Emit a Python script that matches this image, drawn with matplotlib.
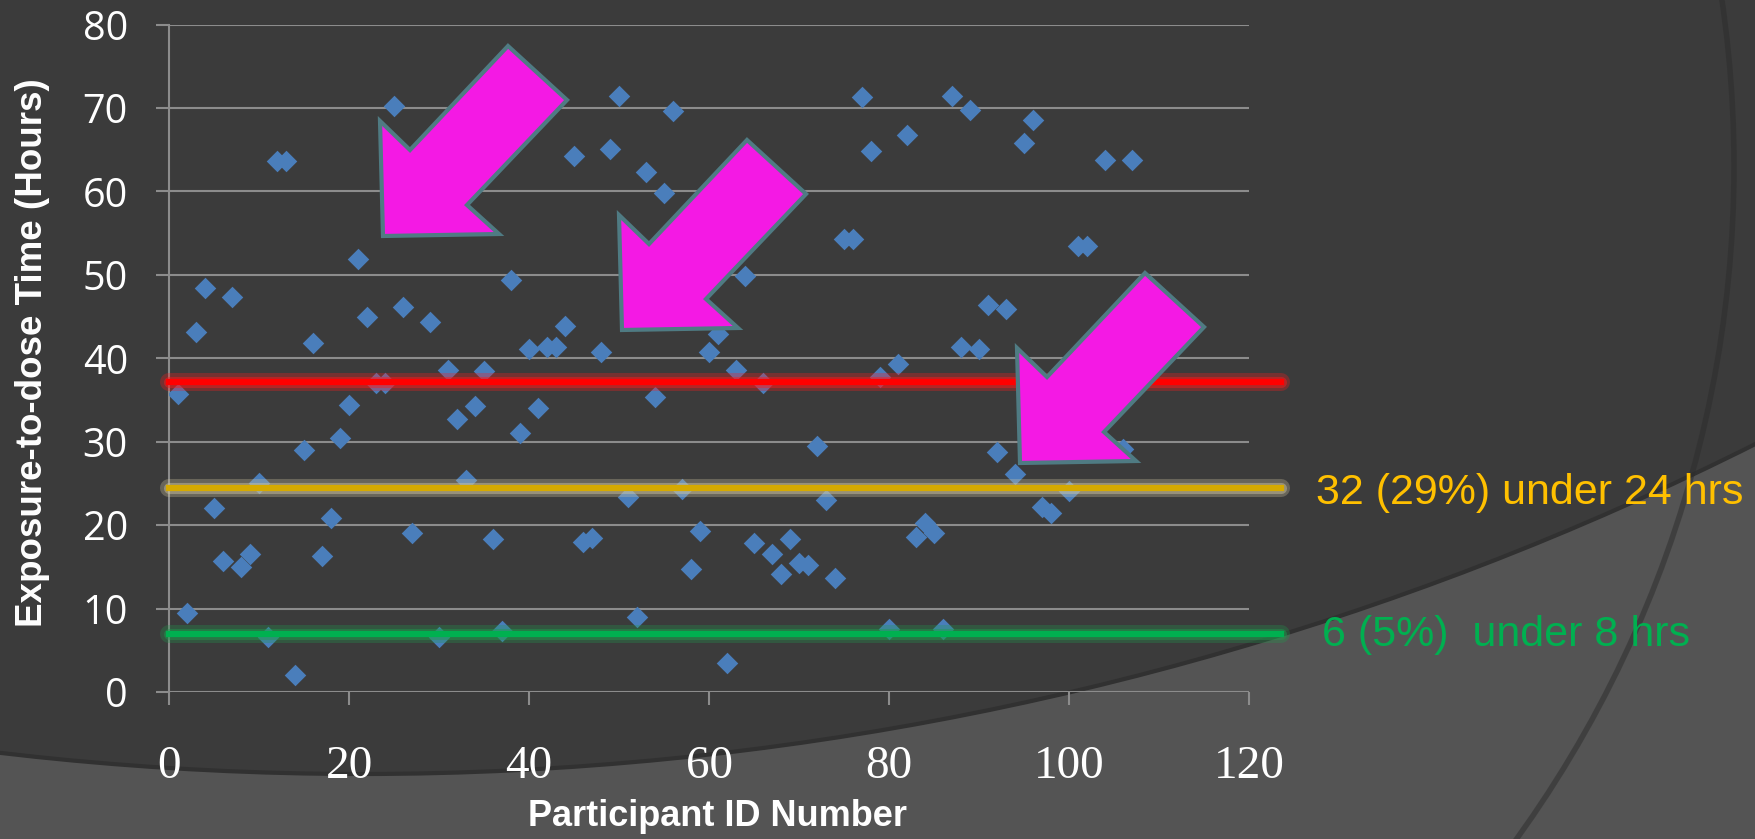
import matplotlib.pyplot as plt
from matplotlib.patches import Ellipse, Polygon

# participant id -> exposure-to-dose time (hours)
participant_id = [1, 2, 3, 4, 5, 6, 7, 8, 9, 10,
                  11, 12, 13, 14, 15, 16, 17, 18, 19, 20,
                  21, 22, 23, 24, 25, 26, 27, 29, 30,
                  31, 32, 33, 34, 35, 36, 37, 38, 39, 40,
                  41, 42, 43, 44, 45, 46, 47, 48, 49, 50,
                  51, 52, 53, 54, 55, 56, 57, 58, 59, 60,
                  61, 62, 63, 64, 65, 66, 67, 68, 69, 70,
                  71, 72, 73, 74, 75, 76, 77, 78, 79, 80,
                  81, 82, 83, 84, 85, 86, 87, 88, 89, 90,
                  91, 92, 93, 94, 95, 96, 97, 98, 100,
                  101, 102, 104, 106, 107]
hours = [35.7, 9.5, 43.2, 48.4, 22.0, 15.7, 47.3, 15.0, 16.5, 25.0,
         6.6, 63.7, 63.6, 2.0, 29.0, 41.8, 16.3, 20.8, 30.5, 34.4,
         51.9, 45.0, 37.0, 37.0, 70.2, 46.2, 19.0, 44.3, 6.6,
         38.6, 32.7, 25.4, 34.3, 38.5, 18.3, 7.3, 49.4, 31.1, 41.1,
         34.0, 41.4, 41.4, 43.9, 64.2, 18.0, 18.5, 40.7, 65.1, 71.5,
         23.4, 9.0, 62.3, 35.4, 59.8, 69.6, 24.3, 14.7, 19.3, 40.7,
         42.9, 3.5, 38.6, 49.9, 17.9, 37.0, 16.6, 14.1, 18.3, 15.5,
         15.2, 29.5, 23.0, 13.7, 54.3, 54.3, 71.3, 64.8, 37.8, 7.5,
         39.3, 66.8, 18.6, 20.3, 19.0, 7.5, 71.5, 41.4, 69.8, 41.1,
         46.4, 28.8, 45.9, 26.1, 65.8, 68.6, 22.2, 21.5, 24.1,
         53.5, 53.5, 63.8, 29.1, 63.8]

# reference lines drawn over the chart
line_levels = [37.2, 24.5, 7.0]
line_x = [0, 123.5]
line_core = ['#ff0000', '#d6aa00', '#00b050']
line_glow = ['#ff1a1a', '#d2c8a4', '#1f9a4c']

notes = ['32 (29%) under 24 hrs', '6 (5%)  under 8 hrs']
note_colors = ['#ffc000', '#00b050']

W, H = 1756, 839
fig = plt.figure(figsize=(W / 100, H / 100), dpi=100)
fig.patch.set_facecolor('#545454')

# slide background: big dark disc plus a faint second ring on the right
disc = Ellipse((362 / W, 1 + 2333 / H), 2 * 3107 / W, 2 * 3107 / H,
               transform=fig.transFigure, facecolor='#3b3b3b',
               edgecolor='#313131', lw=3, zorder=0)
fig.add_artist(disc)
ring = Ellipse((584 / W, 1 - 166 / H), 2 * 1150 / W, 2 * 1150 / H,
               transform=fig.transFigure, facecolor='none',
               edgecolor='#2c2c2c', lw=4, alpha=0.5, zorder=0)
fig.add_artist(ring)

ax = fig.add_axes([169 / W, 147 / H, 1080 / W, 667.4 / H])
ax.set_facecolor('none')
ax.set_xlim(0, 120)
ax.set_ylim(0, 80)
ax.set_xticks(range(0, 121, 20))
ax.set_yticks(range(0, 81, 10))
ax.grid(axis='y', color='#8c8c8c', lw=1.5)
ax.set_axisbelow(True)
for s in ['top', 'right', 'bottom']:
    ax.spines[s].set_visible(False)
ax.spines['left'].set_color('#8c8c8c')
ax.spines['left'].set_linewidth(1.5)

ax.tick_params(axis='y', length=9.6, width=1.5, color='#8c8c8c', pad=20,
               labelsize=28.5, labelcolor='white')
ax.tick_params(axis='x', length=9.6, width=1.5, color='#8c8c8c', pad=29,
               labelsize=34, labelcolor='white')
for lbl in ax.get_yticklabels():
    lbl.set_fontfamily('Open Sans')
for lbl in ax.get_xticklabels():
    lbl.set_fontfamily('Liberation Serif')

diamond = [(-0.5, 0), (0, 0.5), (0.5, 0), (0, -0.5), (-0.5, 0)]
ax.plot(participant_id, hours, ls='none', marker=diamond, ms=15.5,
        color='#4a7ebb', mec='none', zorder=3)

for lvl, core, glow in zip(line_levels, line_core, line_glow):
    ax.plot(line_x, [lvl, lvl], color=glow, lw=13, alpha=0.3,
            solid_capstyle='round', clip_on=False, zorder=4)
    ax.plot(line_x, [lvl, lvl], color=glow, lw=8, alpha=0.45,
            solid_capstyle='round', clip_on=False, zorder=4)
    ax.plot(line_x, [lvl, lvl], color=core, lw=4.5, clip_on=False, zorder=5)

ax.set_ylabel('Exposure-to-dose Time (Hours)', color='white', fontsize=26.5,
              fontweight='bold', family='Liberation Sans')
ax.yaxis.set_label_coords(-0.110, 0.508)
ax.set_xlabel('Participant ID Number', color='white', fontsize=26,
              fontweight='bold', family='Liberation Sans')
ax.xaxis.set_label_coords(0.508, -0.160)

# magenta block arrows (pixel template relative to the tip, y down)
arrow_shape = [(0, 0), (116, -2), (84, -31), (184, -136), (125, -190),
               (27, -86), (-3, -115)]
arrow_tips = [(383, 236), (622, 330), (1020, 463)]
for tx, ty in arrow_tips:
    pts = [((tx + dx) / W, 1 - (ty + dy) / H) for dx, dy in arrow_shape]
    fig.add_artist(Polygon(pts, closed=True, transform=fig.transFigure,
                           facecolor='#f419e4', edgecolor='#4f7b83',
                           lw=3, joinstyle='miter', zorder=10))

fig.text(1316 / W, 1 - 493 / H, notes[0], color=note_colors[0], fontsize=31,
         family='Liberation Sans', ha='left', va='center')
fig.text(1322 / W, 1 - 635 / H, notes[1], color=note_colors[1], fontsize=31,
         family='Liberation Sans', ha='left', va='center')

fig.savefig('out.png', dpi=100, facecolor=fig.get_facecolor())
